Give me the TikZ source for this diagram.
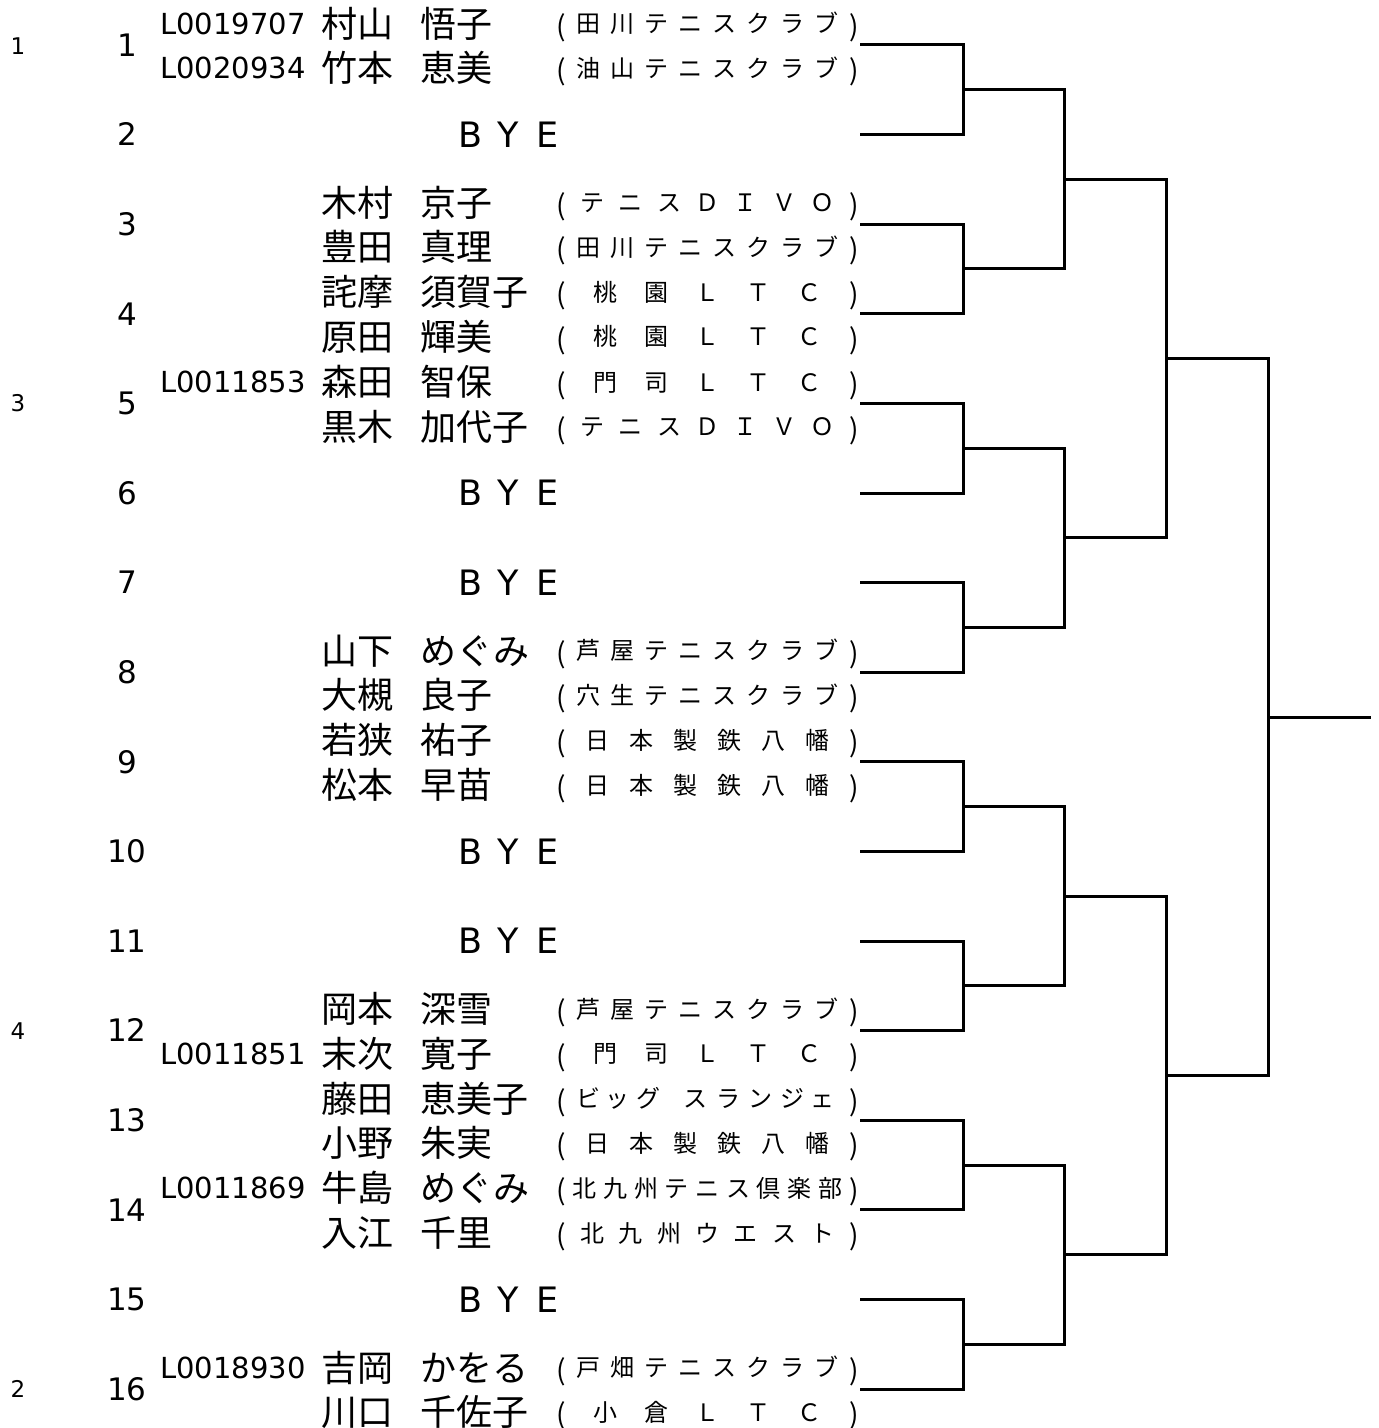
\documentclass[tikz,border=0pt]{standalone}
\usepackage{fontspec}
\setmainfont{DejaVu Sans}
\newfontfamily\jp{Noto Sans CJK JP}
\tikzset{
  nm/.style={font=\jp\fontsize{18}{20}\selectfont, inner sep=0pt, text height=15.8pt, text depth=2.2pt, anchor=west},
  clubch/.style={font=\jp\fontsize{12}{14}\selectfont, inner sep=0pt, text height=10.6pt, text depth=1.4pt},
  parch/.style={font=\jp\fontsize{14}{16}\selectfont, inner sep=0pt, text height=12.3pt, text depth=1.7pt},
  idf/.style={font=\fontsize{14.5}{16}\selectfont, inner sep=0pt, text height=10.6pt, text depth=0pt, anchor=west},
  num/.style={font=\fontsize{15.5}{17}\selectfont, inner sep=0pt, text height=11.3pt, text depth=0pt},
  seed/.style={font=\fontsize{11.5}{13}\selectfont, inner sep=0pt, text height=8.4pt, text depth=0pt},
  byel/.style={font=\fontsize{17.5}{19}\selectfont, inner sep=0pt, text height=12.8pt, text depth=0pt},
  br/.style={line width=1.5pt, line join=miter, black}
}
\newcommand\club[3]{%
  \node[parch] (#1-o) at (561,#2+2) {(};
  \node[parch] (#1-c) at (854,#2+2) {)};
  \foreach \ch [count=\n] in {#3} {\xdef\clubN{\n}}%
  \pgfmathsetmacro\cgap{(285-\clubN*22)/(\clubN+1)}%
  \foreach \ch [count=\i] in {#3} {
    \node[clubch] (#1-\i) at ({565+\cgap*\i+22*(\i-0.5)},#2) {\ch};
  }%
}
\newcommand\player[6]{%
  \node[nm] (#1-s) at (321,#2) {#3};
  \node[nm] (#1-g) at (420,#2) {#4};
  \club{#1-c}{#2}{#5}%
  \if\relax\detokenize{#6}\relax\else\node[idf] (#1-i) at (160,#2) {#6};\fi
}
\newcommand\bye[2]{%
  \node[byel] (#1-B) at (470,#2) {B};
  \node[byel] (#1-Y) at (508,#2) {Y};
  \node[byel] (#1-E) at (548,#2) {E};
}
\begin{document}
\begin{tikzpicture}[x=0.5pt,y=-0.5pt]
\useasboundingbox (0,0) rectangle (1378,1428);
% slot numbers and first-round coordinates
\foreach \k in {1,...,16}{
  \pgfmathsetmacro\yy{45+89.6*(\k-1)}
  \coordinate (a\k) at (860,\yy);
  \coordinate (b\k) at (963,\yy);
  \node[num] (n\k) at (127,\yy) {\k};
}
\foreach \m in {1,...,8}{
  \pgfmathsetmacro\yy{45+89.6*(2*\m-1.5)}
  \coordinate (c\m) at (963,\yy);
  \coordinate (d\m) at (1064,\yy);
}
\foreach \m in {1,...,4}{
  \pgfmathsetmacro\yy{45+89.6*(4*\m-2.5)}
  \coordinate (e\m) at (1064,\yy);
  \coordinate (f\m) at (1166,\yy);
}
\foreach \m in {1,2}{
  \pgfmathsetmacro\yy{45+89.6*(8*\m-4.5)}
  \coordinate (g\m) at (1166,\yy);
  \coordinate (h\m) at (1268,\yy);
}
\coordinate (i) at (1268,717);
\coordinate (j) at (1371,717);
% brackets
\foreach \m [evaluate=\m as \u using int(2*\m-1), evaluate=\m as \v using int(2*\m)] in {1,...,8}
  \draw[br] (a\u) -- (b\u) -- (b\v) -- (a\v);
\foreach \m [evaluate=\m as \u using int(2*\m-1), evaluate=\m as \v using int(2*\m)] in {1,...,4}
  \draw[br] (c\u) -- (d\u) -- (d\v) -- (c\v);
\foreach \m [evaluate=\m as \u using int(2*\m-1), evaluate=\m as \v using int(2*\m)] in {1,2}
  \draw[br] (e\u) -- (f\u) -- (f\v) -- (e\v);
\draw[br] (g1) -- (h1) -- (h2) -- (g2);
\draw[br] (i) -- (j);
% seeds
\node[seed] (s1) at (18,46) {1};
\node[seed] (s3) at (18,403.4) {3};
\node[seed] (s4) at (18,1030.6) {4};
\node[seed] (s2) at (18,1389) {2};
% players
\player{p1a}{23.5}{村山}{悟子}{田,川,テ,ニ,ス,ク,ラ,ブ}{L0019707}
\player{p1b}{68}{竹本}{恵美}{油,山,テ,ニ,ス,ク,ラ,ブ}{L0020934}
\bye{y2}{134.6}
\player{p3a}{202.7}{木村}{京子}{テ,ニ,ス,Ｄ,Ｉ,Ｖ,Ｏ}{}
\player{p3b}{247.2}{豊田}{真理}{田,川,テ,ニ,ス,ク,ラ,ブ}{}
\player{p4a}{292.3}{詫摩}{須賀子}{桃,園,Ｌ,Ｔ,Ｃ}{}
\player{p4b}{336.8}{原田}{輝美}{桃,園,Ｌ,Ｔ,Ｃ}{}
\player{p5a}{381.9}{森田}{智保}{門,司,Ｌ,Ｔ,Ｃ}{L0011853}
\player{p5b}{426.4}{黒木}{加代子}{テ,ニ,ス,Ｄ,Ｉ,Ｖ,Ｏ}{}
\bye{y6}{493}
\bye{y7}{582.6}
\player{p8a}{650.7}{山下}{めぐみ}{芦,屋,テ,ニ,ス,ク,ラ,ブ}{}
\player{p8b}{695.2}{大槻}{良子}{穴,生,テ,ニ,ス,ク,ラ,ブ}{}
\player{p9a}{740.3}{若狭}{祐子}{日,本,製,鉄,八,幡}{}
\player{p9b}{784.8}{松本}{早苗}{日,本,製,鉄,八,幡}{}
\bye{y10}{851.4}
\bye{y11}{941}
\player{p12a}{1009.1}{岡本}{深雪}{芦,屋,テ,ニ,ス,ク,ラ,ブ}{}
\player{p12b}{1053.6}{末次}{寛子}{門,司,Ｌ,Ｔ,Ｃ}{L0011851}
% 藤田 恵美子 (ビッグ スランジェ)
\node[nm] (p13a-s) at (321,1098.7) {藤田};
\node[nm] (p13a-g) at (420,1098.7) {恵美子};
\node[parch] (p13a-c-o) at (561,1100.7) {(};
\node[parch] (p13a-c-c) at (854,1100.7) {)};
\foreach \ch/\xx [count=\i] in {ビ/588,ッ/617,グ/648,ス/695,ラ/728,ン/760,ジ/792,ェ/822}
  \node[clubch] (p13a-c-\i) at (\xx,1098.7) {\ch};
\player{p13b}{1143.2}{小野}{朱実}{日,本,製,鉄,八,幡}{}
\player{p14a}{1188.3}{牛島}{めぐみ}{北,九,州,テ,ニ,ス,倶,楽,部}{L0011869}
\player{p14b}{1232.8}{入江}{千里}{北,九,州,ウ,エ,ス,ト}{}
\bye{y15}{1299.4}
\player{p16a}{1367.5}{吉岡}{かをる}{戸,畑,テ,ニ,ス,ク,ラ,ブ}{L0018930}
\player{p16b}{1412}{川口}{千佐子}{小,倉,Ｌ,Ｔ,Ｃ}{}
\end{tikzpicture}
\end{document}
